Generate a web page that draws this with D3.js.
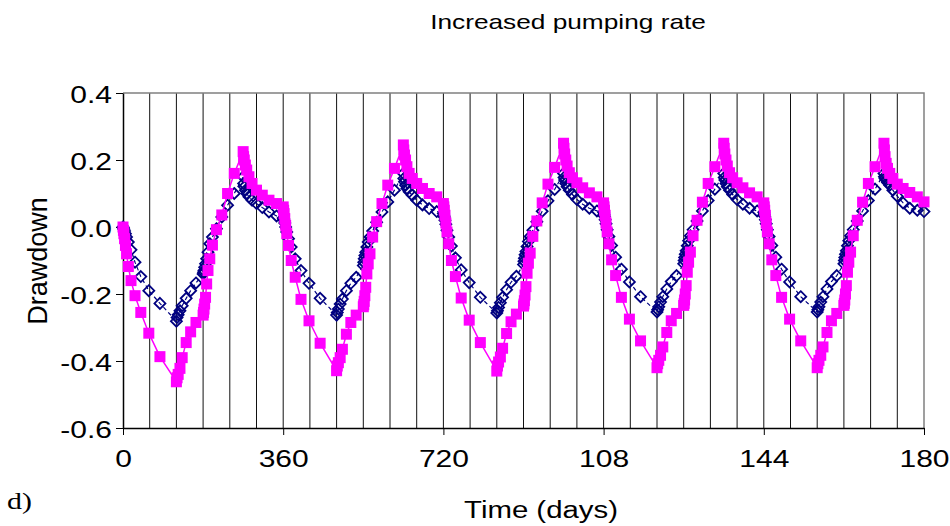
<!DOCTYPE html>
<html>
<head>
<meta charset="utf-8">
<script src="https://cdn.jsdelivr.net/npm/d3@7"></script>
<style>
  body { margin: 0; background: #fff; }
  svg { display: block; font-family: "Liberation Sans", Arial, sans-serif; }
</style>
</head>
<body>
<svg id="chart" width="950" height="526"></svg>
<script>
// time steps inside one 360-day cycle (days from the cycle start)
var cycleDays = [1, 2, 3.5, 5.5, 8, 12, 18, 27, 40, 58, 83, 120,
                 121.5, 124, 128, 133, 142, 152, 164, 180,
                 181, 182, 183.5, 185.5, 188, 191, 195, 201, 210, 222, 235, 250, 270,
                 271, 272.5, 275, 278, 283, 290, 300, 313, 328, 345, 360];
var cycleLength = 360;
var startValue = 0;

// magenta squares, one array per cycle
var magentaCycles = [
  [-0.01, -0.02, -0.035, -0.055, -0.08, -0.118, -0.16, -0.205, -0.255, -0.317, -0.387, -0.462,
   -0.45, -0.44, -0.422, -0.39, -0.345, -0.313, -0.285, -0.263,
   -0.255, -0.245, -0.23, -0.21, -0.17, -0.13, -0.095, -0.054, -0.008, 0.036, 0.1, 0.16, 0.225,
   0.21, 0.2, 0.185, 0.17, 0.15, 0.13, 0.11, 0.095, 0.08, 0.07, 0.06],
  [0.05, 0.04, 0.025, 0.005, -0.02, -0.055, -0.1, -0.15, -0.216, -0.28, -0.347, -0.429,
   -0.415, -0.405, -0.39, -0.365, -0.32, -0.285, -0.263, -0.238,
   -0.232, -0.222, -0.205, -0.18, -0.14, -0.11, -0.08, -0.03, 0.016, 0.07, 0.125, 0.175, 0.245,
   0.23, 0.215, 0.2, 0.18, 0.16, 0.145, 0.13, 0.115, 0.1, 0.09, 0.07],
  [0.06, 0.05, 0.035, 0.012, -0.015, -0.05, -0.1, -0.148, -0.212, -0.278, -0.345, -0.43,
   -0.415, -0.403, -0.388, -0.362, -0.318, -0.283, -0.26, -0.236,
   -0.23, -0.22, -0.203, -0.178, -0.138, -0.108, -0.078, -0.028, 0.018, 0.072, 0.128, 0.178, 0.25,
   0.235, 0.218, 0.2, 0.182, 0.162, 0.147, 0.132, 0.117, 0.102, 0.09, 0.072],
  [0.06, 0.05, 0.035, 0.012, -0.015, -0.05, -0.098, -0.145, -0.21, -0.275, -0.34, -0.42,
   -0.408, -0.398, -0.383, -0.358, -0.315, -0.28, -0.258, -0.234,
   -0.228, -0.218, -0.2, -0.175, -0.135, -0.105, -0.075, -0.026, 0.02, 0.074, 0.13, 0.18, 0.25,
   0.235, 0.218, 0.2, 0.182, 0.162, 0.147, 0.132, 0.117, 0.102, 0.09, 0.072],
  [0.06, 0.05, 0.035, 0.012, -0.015, -0.05, -0.098, -0.145, -0.21, -0.275, -0.34, -0.42,
   -0.408, -0.398, -0.383, -0.358, -0.315, -0.28, -0.258, -0.234,
   -0.228, -0.218, -0.2, -0.175, -0.135, -0.105, -0.075, -0.026, 0.02, 0.074, 0.13, 0.18, 0.25,
   0.23, 0.21, 0.19, 0.175, 0.16, 0.145, 0.128, 0.115, 0.103, 0.09, 0.075]
];

// navy diamonds, one array per cycle
var navyCycles = [
  [-0.003, -0.007, -0.012, -0.02, -0.03, -0.045, -0.068, -0.105, -0.148, -0.19, -0.228, -0.281,
   -0.27, -0.262, -0.25, -0.235, -0.213, -0.19, -0.167, -0.14,
   -0.135, -0.13, -0.12, -0.11, -0.095, -0.075, -0.05, -0.03, -0.005, 0.03, 0.065, 0.1, 0.15,
   0.13, 0.12, 0.11, 0.1, 0.09, 0.08, 0.07, 0.058, 0.045, 0.033, 0.027],
  [0.025, 0.02, 0.012, 0.0, -0.015, -0.035, -0.06, -0.095, -0.13, -0.168, -0.213, -0.263,
   -0.255, -0.245, -0.23, -0.215, -0.19, -0.168, -0.15, -0.115,
   -0.105, -0.095, -0.085, -0.075, -0.06, -0.045, -0.03, -0.012, 0.014, 0.045, 0.075, 0.11, 0.16,
   0.145, 0.135, 0.125, 0.115, 0.105, 0.095, 0.08, 0.066, 0.055, 0.046, 0.04],
  [0.035, 0.03, 0.02, 0.008, -0.01, -0.03, -0.057, -0.092, -0.128, -0.166, -0.21, -0.257,
   -0.25, -0.24, -0.226, -0.21, -0.187, -0.165, -0.147, -0.112,
   -0.102, -0.093, -0.083, -0.073, -0.058, -0.043, -0.028, -0.01, 0.016, 0.047, 0.078, 0.112, 0.16,
   0.148, 0.14, 0.13, 0.12, 0.11, 0.097, 0.082, 0.068, 0.056, 0.048, 0.044],
  [0.038, 0.032, 0.022, 0.01, -0.008, -0.028, -0.055, -0.09, -0.126, -0.164, -0.208, -0.254,
   -0.247, -0.238, -0.224, -0.208, -0.185, -0.163, -0.145, -0.11,
   -0.1, -0.091, -0.081, -0.071, -0.056, -0.041, -0.026, -0.008, 0.018, 0.048, 0.079, 0.113, 0.16,
   0.148, 0.14, 0.13, 0.12, 0.11, 0.097, 0.082, 0.068, 0.056, 0.048, 0.044],
  [0.038, 0.032, 0.022, 0.01, -0.008, -0.028, -0.055, -0.09, -0.126, -0.164, -0.208, -0.254,
   -0.247, -0.238, -0.224, -0.208, -0.185, -0.163, -0.145, -0.11,
   -0.1, -0.091, -0.081, -0.071, -0.056, -0.041, -0.026, -0.008, 0.018, 0.048, 0.079, 0.113, 0.16,
   0.15, 0.145, 0.14, 0.133, 0.125, 0.11, 0.092, 0.072, 0.056, 0.05, 0.046]
];

var xTicks = [0, 360, 720, 1080, 1440, 1800];
var xTickLabels = ["0", "360", "720", "108", "144", "180"];
var yTicks = [0.4, 0.2, 0.0, -0.2, -0.4, -0.6];
var yTickLabels = ["0.4", "0.2", "0.0", "-0.2", "-0.4", "-0.6"];
var gridStep = 60;

var titleText = "Increased pumping rate";
var xTitle = "Time (days)";
var yTitle = "Drawdown";
var panelLabel = "d)";

var stretch = 1.25;   // text in the picture is a little wider than normal

var plotLeft = 123, plotTop = 93, plotRight = 924, plotBottom = 428;

var svg = d3.select("#chart");

var x = d3.scaleLinear().domain([0, 1800]).range([plotLeft, plotRight]);
var y = d3.scaleLinear().domain([-0.6, 0.4]).range([plotBottom, plotTop]);

function buildSeries(cycles) {
  var pts = [{t: 0, v: startValue}];
  for (var c = 0; c < cycles.length; c++) {
    for (var i = 0; i < cycleDays.length; i++) {
      pts.push({t: c * cycleLength + cycleDays[i], v: cycles[c][i]});
    }
  }
  return pts;
}
var magenta = buildSeries(magentaCycles);
var navy = buildSeries(navyCycles);

// vertical gridlines
var gridVals = d3.range(gridStep, 1800, gridStep);
svg.append("g")
  .selectAll("line").data(gridVals).enter().append("line")
  .attr("x1", function(d){ return x(d); })
  .attr("x2", function(d){ return x(d); })
  .attr("y1", plotTop).attr("y2", plotBottom)
  .style("stroke", "#111").style("stroke-width", 1);

// top and right frame
svg.append("path")
  .attr("d", "M" + plotLeft + "," + plotTop + "H" + plotRight + "V" + plotBottom)
  .style("fill", "none").style("stroke", "#808080").style("stroke-width", 1.5);

// x axis
var xAxis = svg.append("g").attr("transform", "translate(0," + plotBottom + ")")
  .call(d3.axisBottom(x).tickValues(xTicks).tickSize(7).tickSizeOuter(0)
    .tickFormat(function(d, i){ return xTickLabels[i]; }));
xAxis.select(".domain").style("stroke", "#000").style("stroke-width", 1.5);
xAxis.selectAll(".tick line").style("stroke", "#000");
xAxis.selectAll(".tick text")
  .attr("y", 0).attr("dy", 0)
  .attr("transform", "translate(0,39) scale(" + stretch + ",1)")
  .style("font-size", "24px").style("fill", "#000");

// y axis
var yAxis = svg.append("g").attr("transform", "translate(" + plotLeft + ",0)")
  .call(d3.axisLeft(y).tickValues(yTicks).tickSize(7).tickSizeOuter(0)
    .tickFormat(function(d, i){ return yTickLabels[i]; }));
yAxis.select(".domain").style("stroke", "#000").style("stroke-width", 1.5);
yAxis.selectAll(".tick line").style("stroke", "#000");
yAxis.selectAll(".tick text")
  .attr("x", 0).attr("dy", 0)
  .attr("transform", "translate(-11,9) scale(" + stretch + ",1)")
  .style("font-size", "24px").style("fill", "#000");

// navy series: dashed line with hollow diamonds
var line = d3.line().x(function(d){ return x(d.t); }).y(function(d){ return y(d.v); });

svg.append("path").datum(navy)
  .attr("d", line)
  .style("fill", "none").style("stroke", "#000080")
  .style("stroke-width", 1.2).style("stroke-dasharray", "4,3");

svg.append("g").selectAll("path").data(navy).enter().append("path")
  .attr("d", "M0,-5.5L5.5,0L0,5.5L-5.5,0Z")
  .attr("transform", function(d){ return "translate(" + x(d.t) + "," + y(d.v) + ")"; })
  .style("fill", "none").style("stroke", "#000080").style("stroke-width", 1.8);

// magenta series: solid line with filled squares
svg.append("path").datum(magenta)
  .attr("d", line)
  .style("fill", "none").style("stroke", "#FF00FF").style("stroke-width", 1.5);

svg.append("g").selectAll("rect").data(magenta).enter().append("rect")
  .attr("x", function(d){ return x(d.t) - 5.5; })
  .attr("y", function(d){ return y(d.v) - 5.5; })
  .attr("width", 11).attr("height", 11)
  .style("fill", "#FF00FF");

// titles
svg.append("text")
  .attr("transform", "translate(568,29) scale(" + stretch + ",1)")
  .attr("text-anchor", "middle")
  .style("font-size", "21px")
  .text(titleText);

svg.append("text")
  .attr("transform", "translate(541,518) scale(" + stretch + ",1)")
  .attr("text-anchor", "middle")
  .style("font-size", "23.5px")
  .text(xTitle);

svg.append("text")
  .attr("transform", "translate(47,261) rotate(-90)")
  .attr("text-anchor", "middle")
  .style("font-size", "27px")
  .text(yTitle);

svg.append("text")
  .attr("transform", "translate(7,509) scale(1.3,1)")
  .style("font-family", "'Liberation Serif', 'Times New Roman', serif")
  .style("font-size", "23px")
  .text(panelLabel);
</script>
</body>
</html>
